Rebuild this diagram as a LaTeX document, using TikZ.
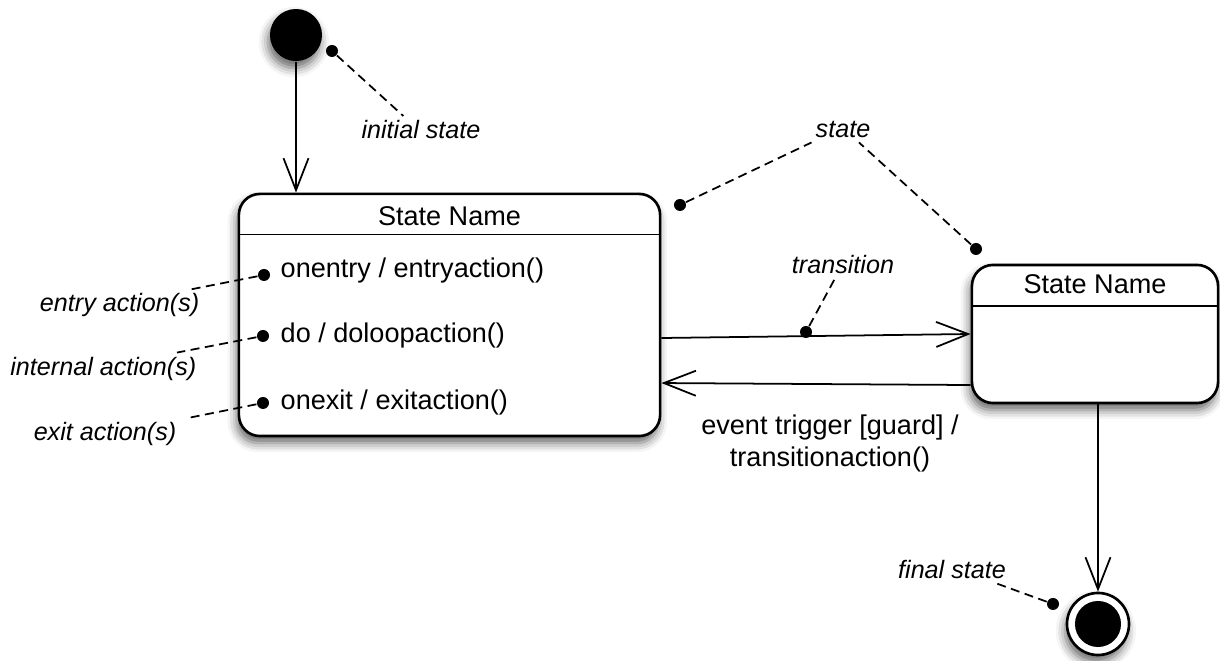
\documentclass[tikz,border=0pt]{standalone}
\usepackage{fontspec}
\setmainfont{Liberation Sans}
\usetikzlibrary{arrows.meta,calc,positioning,shadows.blur}

\tikzset{
	umlfont/.style={font=\fontsize{7.7}{9.1}\selectfont},
	shade box/.style={blur shadow={shadow xshift=-0.6pt, shadow yshift=-2pt, shadow blur radius=2.6pt, shadow opacity=60}},
	statebox/.style={shade box, draw, line width=0.75pt, fill=white, rounded corners=0.21cm, inner sep=0pt},
	notedot/.style={circle, fill=black, inner sep=0pt, minimum size=0.12cm},
	notetext/.style={font=\fontsize{7.15}{8.6}\selectfont\itshape, inner sep=1pt},
	note/.style={line width=0.5pt, dash pattern=on 0.09cm off 0.055cm},
	trans/.style={line width=0.5pt, -{Straight Barb[length=0.32cm, width=0.25cm, line width=0.5pt]}},
}

\begin{document}
\begin{tikzpicture}[x=0.01cm, y=-0.01cm, every node/.style={umlfont}]
	%%%%% START %%%%%
	\useasboundingbox (0, 0) rectangle (1220, 661);
	
	\node[circle, fill=black, minimum size=0.52cm, inner sep=0pt, shade box] (init) at (296, 35) {};
	
	\node[statebox, minimum width=4.21cm, minimum height=2.42cm] (s1) at (449.5, 315) {};
	\draw[line width=0.5pt] ($(s1.north west)+(0, 42)$) -- ($(s1.north east)+(0, 42)$);
	\node[anchor=base] (s1name) at ($(s1.north)+(0, 33)$) {State Name};
	\node[anchor=base west, inner sep=0pt] (entry) at (280, 278) {onentry / entryaction()};
	\node[anchor=base west, inner sep=0pt] (doact) at (280, 343) {do / doloopaction()};
	\node[anchor=base west, inner sep=0pt] (exit) at (280, 410) {onexit / exitaction()};
	
	\node[statebox, minimum width=2.46cm, minimum height=1.38cm] (s2) at (1095, 334) {};
	\draw[line width=0.5pt] ($(s2.north west)+(0, 42)$) -- ($(s2.north east)+(0, 42)$);
	\node[anchor=base] (s2name) at ($(s2.north)+(0, 30)$) {State Name};
	
	\node[circle, draw, line width=0.75pt, fill=white, minimum size=0.62cm, inner sep=0pt, shade box] (final) at (1098, 624) {};
	\node[circle, fill=black, minimum size=0.46cm, inner sep=0pt] (finalin) at (final) {};
	
	%% transitions
	\draw[trans] (init) -- (init |- s1.north);
	\draw[trans] ([yshift=-0.23cm]s1.east) -- (s2.west);
	\draw[trans] ([yshift=-0.51cm]s2.west) -- ([yshift=-0.68cm]s1.east);
	\draw[trans] (final |- s2.south) -- (final.north);
	\node[align=center, inner sep=0pt] (evlbl) at (830, 443) {event trigger [guard] /\\transitionaction()};
	
	%% notes
	\node[notetext] (initlbl) at (421, 129.5) {initial state};
	\node[notetext] (statelbl) at (843, 130) {state};
	\node[notetext] (translbl) at (843, 265) {transition};
	\node[notetext] (finallbl) at (952, 570) {final state};
	\node[notetext, anchor=east] (entrylbl) at (203.5, 305.5) {entry action(s)};
	\node[notetext, anchor=east] (intlbl) at (200.5, 368.5) {internal action(s)};
	\node[notetext, anchor=east] (exitlbl) at (180.5, 433.5) {exit action(s)};
	
	\node[notedot] (initdot) at (332, 51) {};
	\node[notedot] (s1dot) at (680, 205) {};
	\node[notedot] (s2dot) at (976, 249) {};
	\node[notedot] (transdot) at (806, 332) {};
	\node[notedot] (finaldot) at (1053, 604) {};
	\node[notedot] (entrydot) at (264, 275) {};
	\node[notedot] (dodot) at (263, 336) {};
	\node[notedot] (exitdot) at (263, 403) {};
	
	\draw[note] (initdot) -- ([xshift=0.46cm]initlbl.north west);
	\draw[note] (s1dot) -- (statelbl.south west);
	\draw[note] (s2dot) -- ([xshift=-0.155cm]statelbl.south east);
	\draw[note] (transdot) -- ([xshift=-0.08cm]translbl.south);
	\draw[note] (finaldot) -- ([xshift=-0.135cm]finallbl.south east);
	\draw[note] (entrydot) -- ([xshift=-0.135cm]entrylbl.north east);
	\draw[note] (dodot) -- ([xshift=-0.235cm]intlbl.north east);
	\draw[note] (exitdot) -- ([xshift=0.095cm]exitlbl.north east);
	%%%%% END %%%%%
\end{tikzpicture}
\end{document}
